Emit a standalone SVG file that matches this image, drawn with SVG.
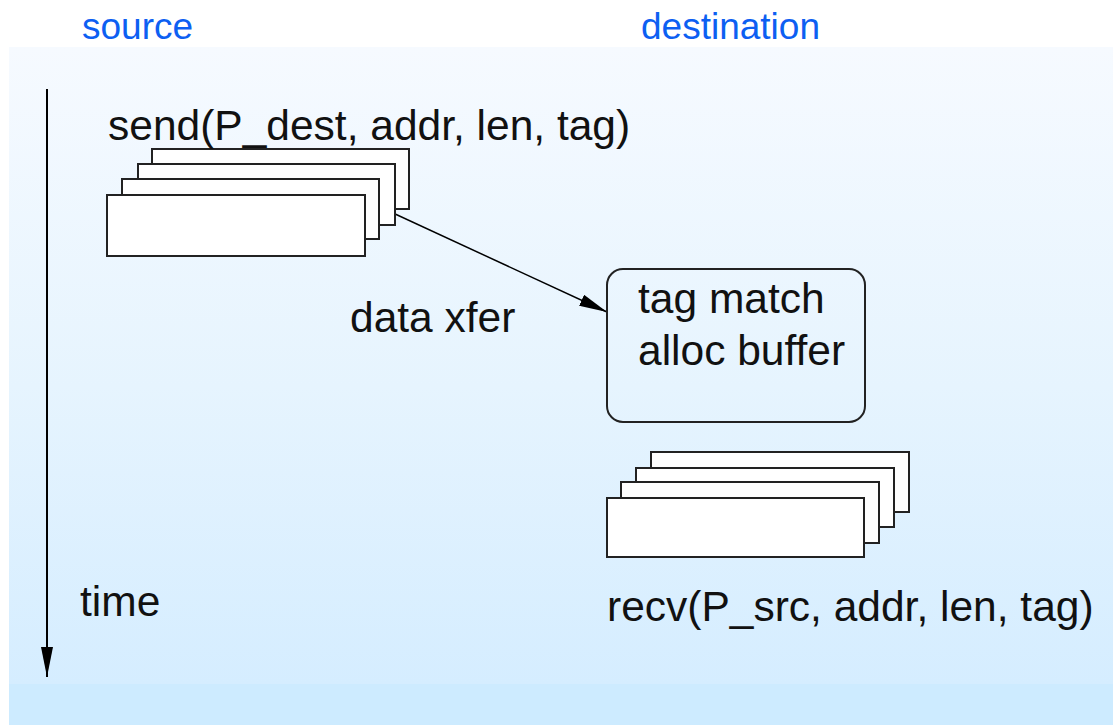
<svg xmlns="http://www.w3.org/2000/svg" width="1113" height="725" viewBox="0 0 1113 725">
<defs>
<linearGradient id="bg" x1="0" y1="0" x2="0" y2="1">
<stop offset="0" stop-color="#f6faff"/>
<stop offset="0.5" stop-color="#e6f4fe"/>
<stop offset="0.94" stop-color="#d5edff"/>
<stop offset="0.94" stop-color="#cdebff"/>
<stop offset="1" stop-color="#cdebff"/>
</linearGradient>
<marker id="ah" markerWidth="30" markerHeight="12" refX="28" refY="6" orient="auto" markerUnits="userSpaceOnUse">
<path d="M0,0 L28,6 L0,12 z" fill="#000"/>
</marker>
<marker id="ah2" markerWidth="32" markerHeight="12" refX="30" refY="6" orient="auto" markerUnits="userSpaceOnUse">
<path d="M0,0 L30,6 L0,12 z" fill="#000"/>
</marker>
</defs>
<style>
.t{font-family:"Liberation Sans",Arial,sans-serif;font-size:42.5px;fill:#111}
.h{font-family:"Liberation Sans",Arial,sans-serif;font-size:37px;fill:#0d5ff2}
.card{fill:#fff;stroke:#222;stroke-width:2}
.ln{stroke:#000;stroke-width:2;fill:none}
</style>
<rect x="9" y="47" width="1104" height="678" fill="url(#bg)"/>
<g id="header-source"><text class="h" x="82" y="39">source</text></g>
<g id="header-destination"><text class="h" x="641" y="39">destination</text></g>
<g id="connectors">
<line class="ln" x1="47" y1="89" x2="47" y2="677" marker-end="url(#ah2)"/>
<line x1="380" y1="207" x2="607" y2="312" stroke="#000" stroke-width="1.5" marker-end="url(#ah)"/>
</g>
<g id="send">
<rect class="card" x="152" y="149" width="257" height="60"/>
<rect class="card" x="138" y="164" width="257" height="61"/>
<rect class="card" x="122" y="179" width="257" height="60"/>
<rect class="card" x="107" y="195" width="258" height="61"/>
<text class="t" x="108" y="140">send(P_dest, addr, len, tag)</text>
</g>
<g id="match">
<rect x="607" y="269" width="258" height="153" rx="16" fill="none" stroke="#222" stroke-width="2"/>
<text class="t" x="638" y="313">tag match</text>
<text class="t" x="638" y="365">alloc buffer</text>
</g>
<g id="recv">
<rect class="card" x="651" y="452" width="258" height="60"/>
<rect class="card" x="636" y="468" width="258" height="59"/>
<rect class="card" x="621" y="482" width="258" height="61"/>
<rect class="card" x="607" y="498" width="257" height="59"/>
<text class="t" x="607" y="621">recv(P_src, addr, len, tag)</text>
</g>
<g id="label-data"><text class="t" x="350" y="332">data xfer</text></g>
<g id="label-time"><text class="t" x="80" y="616">time</text></g>
</svg>
